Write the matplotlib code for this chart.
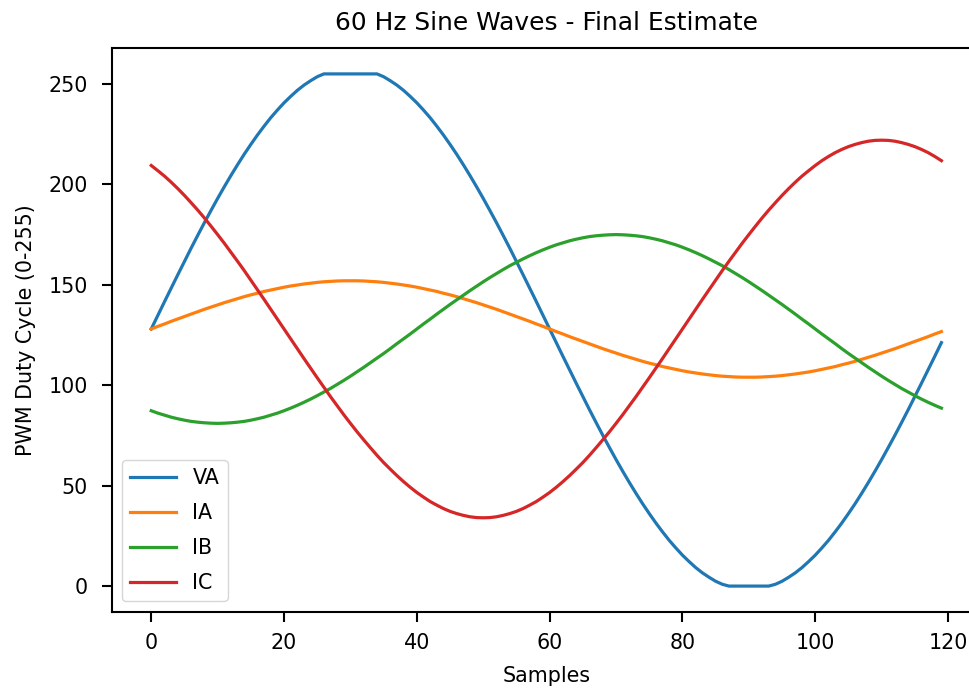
import numpy as np
import matplotlib
matplotlib.use("Agg")
import matplotlib.pyplot as plt

# scale factor for a 9.69 x 6.9 in canvas at 100 dpi
k = 1.49

plt.rcParams.update({
    "font.family": "DejaVu Sans",
    "font.size": 10 * k,
    "axes.linewidth": 1.5,
    "xtick.major.width": 1.5,
    "ytick.major.width": 1.5,
    "xtick.major.size": 7,
    "ytick.major.size": 7,
    "xtick.major.pad": 8,
    "ytick.major.pad": 10,
    "lines.linewidth": 2.3,
    "legend.fontsize": 10 * k,
    "legend.labelspacing": 0.72,
    "legend.handlelength": 2.2,
})

samples = np.arange(120)

va = [128.0, 134.8, 141.6, 148.3, 155.0, 161.6, 168.2, 174.6, 180.9, 187.0,
      193.0, 198.8, 204.4, 209.8, 215.0, 219.9, 224.6, 229.0, 233.2, 237.0,
      240.6, 243.8, 246.8, 249.4, 251.6, 253.6, 255.0, 255.0, 255.0, 255.0,
      255.0, 255.0, 255.0, 255.0, 255.0, 253.6, 251.6, 249.4, 246.8, 243.8,
      240.6, 237.0, 233.2, 229.0, 224.6, 219.9, 215.0, 209.8, 204.4, 198.8,
      193.0, 187.0, 180.9, 174.6, 168.2, 161.6, 155.0, 148.3, 141.6, 134.8,
      128.0, 121.2, 114.4, 107.7, 101.0, 94.4, 87.8, 81.4, 75.1, 69.0,
      63.0, 57.2, 51.6, 46.2, 41.0, 36.1, 31.4, 27.0, 22.8, 19.0,
      15.4, 12.2, 9.2, 6.6, 4.4, 2.4, 0.9, 0.0, 0.0, 0.0,
      0.0, 0.0, 0.0, 0.0, 0.9, 2.4, 4.4, 6.6, 9.2, 12.2,
      15.4, 19.0, 22.8, 27.0, 31.4, 36.1, 41.0, 46.2, 51.6, 57.2,
      63.0, 69.0, 75.1, 81.4, 87.8, 94.4, 101.0, 107.7, 114.4, 121.2]

ia = [128.0, 129.3, 130.5, 131.8, 133.0, 134.2, 135.4, 136.6, 137.8, 138.9,
      140.0, 141.1, 142.1, 143.1, 144.1, 145.0, 145.8, 146.7, 147.4, 148.1,
      148.8, 149.4, 149.9, 150.4, 150.8, 151.2, 151.5, 151.7, 151.9, 152.0,
      152.0, 152.0, 151.9, 151.7, 151.5, 151.2, 150.8, 150.4, 149.9, 149.4,
      148.8, 148.1, 147.4, 146.7, 145.8, 145.0, 144.1, 143.1, 142.1, 141.1,
      140.0, 138.9, 137.8, 136.6, 135.4, 134.2, 133.0, 131.8, 130.5, 129.3,
      128.0, 126.7, 125.5, 124.2, 123.0, 121.8, 120.6, 119.4, 118.2, 117.1,
      116.0, 114.9, 113.9, 112.9, 111.9, 111.0, 110.2, 109.3, 108.6, 107.9,
      107.2, 106.6, 106.1, 105.6, 105.2, 104.8, 104.5, 104.3, 104.1, 104.0,
      104.0, 104.0, 104.1, 104.3, 104.5, 104.8, 105.2, 105.6, 106.1, 106.6,
      107.2, 107.9, 108.6, 109.3, 110.2, 111.0, 111.9, 112.9, 113.9, 114.9,
      116.0, 117.1, 118.2, 119.4, 120.6, 121.8, 123.0, 124.2, 125.5, 126.7]

ib = [87.3, 86.1, 85.1, 84.1, 83.3, 82.6, 82.0, 81.6, 81.3, 81.1,
      81.0, 81.1, 81.3, 81.6, 82.0, 82.6, 83.3, 84.1, 85.1, 86.1,
      87.3, 88.6, 90.0, 91.5, 93.1, 94.8, 96.6, 98.4, 100.4, 102.4,
      104.5, 106.7, 108.9, 111.2, 113.5, 115.8, 118.2, 120.7, 123.1, 125.5,
      128.0, 130.5, 132.9, 135.4, 137.8, 140.2, 142.5, 144.8, 147.1, 149.3,
      151.5, 153.6, 155.6, 157.6, 159.5, 161.2, 162.9, 164.5, 166.0, 167.4,
      168.7, 169.9, 170.9, 171.9, 172.7, 173.4, 174.0, 174.4, 174.7, 174.9,
      175.0, 174.9, 174.7, 174.4, 174.0, 173.4, 172.7, 171.9, 170.9, 169.9,
      168.7, 167.4, 166.0, 164.5, 162.9, 161.2, 159.5, 157.6, 155.6, 153.6,
      151.5, 149.3, 147.1, 144.8, 142.5, 140.2, 137.8, 135.4, 132.9, 130.5,
      128.0, 125.5, 123.1, 120.7, 118.2, 115.8, 113.5, 111.2, 108.9, 106.7,
      104.5, 102.4, 100.4, 98.4, 96.6, 94.8, 93.1, 91.5, 90.0, 88.6]

ic = [209.4, 206.8, 204.1, 201.1, 197.9, 194.5, 190.9, 187.2, 183.3, 179.2,
      175.0, 170.7, 166.2, 161.7, 157.1, 152.3, 147.5, 142.7, 137.8, 132.9,
      128.0, 123.1, 118.2, 113.3, 108.5, 103.7, 99.0, 94.3, 89.8, 85.3,
      81.0, 76.8, 72.8, 68.9, 65.1, 61.5, 58.2, 55.0, 52.0, 49.2,
      46.6, 44.3, 42.1, 40.3, 38.6, 37.2, 36.1, 35.2, 34.5, 34.1,
      34.0, 34.1, 34.5, 35.2, 36.1, 37.2, 38.6, 40.3, 42.1, 44.3,
      46.6, 49.2, 52.0, 55.0, 58.2, 61.5, 65.1, 68.9, 72.8, 76.8,
      81.0, 85.3, 89.8, 94.3, 99.0, 103.7, 108.5, 113.3, 118.2, 123.1,
      128.0, 132.9, 137.8, 142.7, 147.5, 152.3, 157.1, 161.7, 166.2, 170.7,
      175.0, 179.2, 183.3, 187.2, 190.9, 194.5, 197.9, 201.1, 204.1, 206.8,
      209.4, 211.8, 213.9, 215.8, 217.4, 218.8, 219.9, 220.8, 221.5, 221.9,
      222.0, 221.9, 221.5, 220.8, 219.9, 218.8, 217.4, 215.8, 213.9, 211.8]

series = [("VA", va), ("IA", ia), ("IB", ib), ("IC", ic)]

fig = plt.figure(figsize=(9.69, 6.9), dpi=100)
ax = fig.add_axes([0.1153, 0.1135, 0.897, 0.8165])

for name, vals in series:
    ax.plot(samples, vals, label=name)

ax.set_title("60 Hz Sine Waves - Final Estimate", fontsize=12 * k, pad=13)
ax.set_xlabel("Samples", labelpad=10)
ax.set_ylabel("PWM Duty Cycle (0-255)", labelpad=9)
ax.set_xticks([0, 20, 40, 60, 80, 100, 120])
ax.set_yticks([0, 50, 100, 150, 200, 250])
ax.set_xlim(-5.95, 124.95)
ax.set_ylim(-12.75, 267.75)
ax.legend(loc="lower left")

fig.savefig("out.png", dpi=100)
